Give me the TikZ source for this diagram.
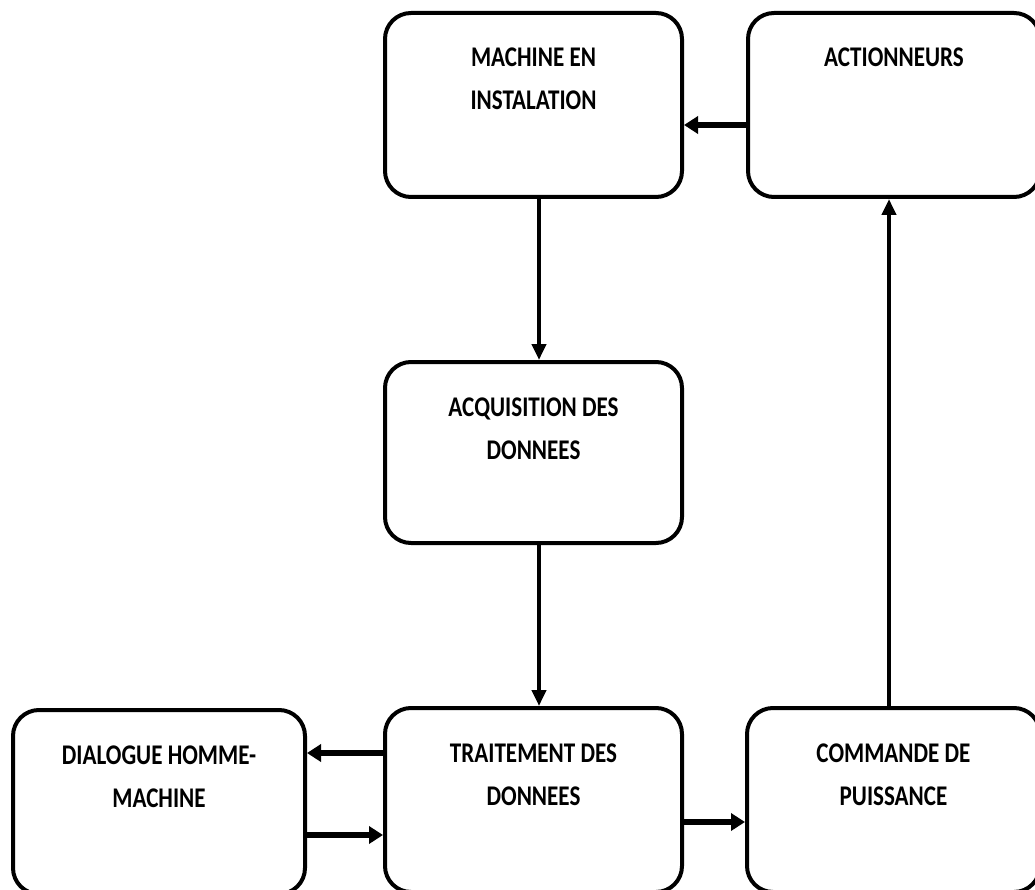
\documentclass[tikz,border=0pt]{standalone}
\usepackage{fontspec}
\newfontfamily\boxfont{Carlito}[FakeStretch=0.81]
\usetikzlibrary{arrows.meta}

\tikzset{
  block/.style={draw=black, line width=4pt, rounded corners=26pt,
    minimum width=297pt, minimum height=184pt, inner sep=0pt},
  title/.style={label={[anchor=base, yshift=-56pt, inner sep=0pt]north:%
    \parbox[t]{280pt}{\centering\boxfont\bfseries\fontsize{28.5}{43}\selectfont #1}}},
  vflow/.style={line width=4pt, -{Triangle[length=16pt,width=14pt]}},
  hflow/.style={line width=6pt, -{Triangle[length=14pt,width=17pt]}},
}

\begin{document}
\begin{tikzpicture}[x=1pt, y=-1pt]
  \clip (0,0) rectangle (1035,890);
  \fill[white] (0,0) rectangle (1035,890);

  % blocks of the control chain
  \node[block, title={MACHINE EN\\INSTALATION}] (mach) at (533.5,105) {};
  \node[block, minimum width=292pt, title={ACTIONNEURS}] (act) at (894,105) {};
  \node[block, minimum height=181pt, title={ACQUISITION DES\\DONNEES}] (acq) at (533.5,452.5) {};
  \node[block, title={TRAITEMENT DES\\DONNEES}] (trait) at (533.5,800) {};
  \node[block, minimum width=292pt, title={DIALOGUE HOMME-\\MACHINE}] (dial) at (159,802) {};
  \node[block, minimum width=293pt, title={COMMANDE DE\\PUISSANCE}] (cmd) at (893.5,800) {};

  % signal flow
  \draw[vflow] ([xshift=5.5pt]mach.south) -- ([xshift=5.5pt]acq.north);
  \draw[vflow] ([xshift=5.5pt]acq.south) -- ([xshift=5.5pt]trait.north);
  \draw[hflow] ([yshift=47pt]trait.west) -- ([yshift=47pt]trait.west -| dial.east);
  \draw[hflow] ([yshift=-35pt]trait.west -| dial.east) -- ([yshift=-35pt]trait.west);
  \draw[hflow] ([yshift=-22pt]trait.east) -- ([yshift=-22pt]trait.east -| cmd.west);
  \draw[vflow] ([xshift=-4.5pt]cmd.north) -- ([xshift=-4.5pt]cmd.north |- act.south);
  \draw[hflow] ([yshift=-20pt]act.west) -- ([yshift=-20pt]act.west -| mach.east);
\end{tikzpicture}
\end{document}
